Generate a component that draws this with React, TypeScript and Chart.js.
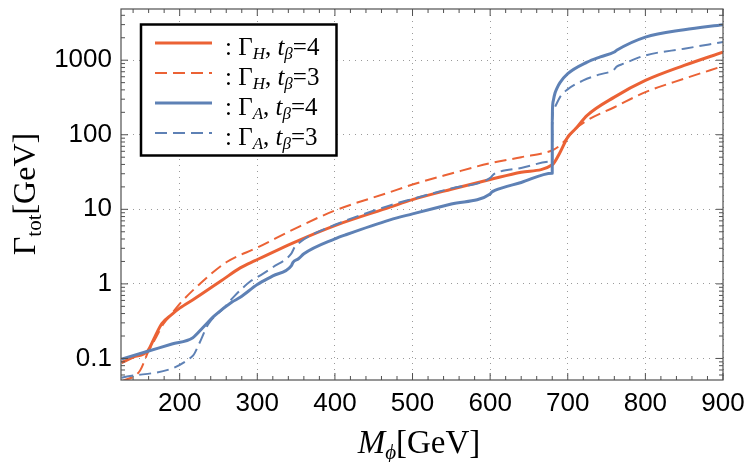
import React, { useEffect, useRef } from 'react';
import { Chart, registerables } from 'chart.js';

Chart.register(...registerables);

const RED = '#EB6235';
const BLUE = '#5E81B5';
const SANS = '"Liberation Sans", Arial, sans-serif';
const SERIF = '"Liberation Serif", "DejaVu Serif", "Times New Roman", serif';

// Γ_H, t_β = 4 (solid red)
const hX4 = [125, 140, 159, 168, 177, 190, 200, 220, 254, 278, 297, 350, 400, 471, 500, 550, 600, 640, 680, 690, 700, 710, 725, 760, 800, 850, 900];
const hY4 = [0.088, 0.104, 0.127, 0.195, 0.293, 0.39, 0.473, 0.64, 1.11, 1.64, 2.05, 3.7, 6.06, 10.7, 13.5, 18.6, 25.1, 31.5, 39.6, 58, 93, 120, 182, 320, 535, 851, 1285];

// Γ_H, t_β = 3 (dashed red)
const hX3 = [125, 149, 159, 170, 179, 190, 200, 226, 260, 300, 350, 400, 471, 500, 550, 600, 640, 680, 690, 700, 705, 725, 760, 800, 850, 900];
const hY3 = [0.049, 0.069, 0.12, 0.195, 0.29, 0.4, 0.54, 1.0, 1.95, 3.07, 5.6, 9.64, 17.0, 21.5, 30.2, 41.6, 50, 62, 72, 92, 108, 156, 234, 373, 565, 833];

// Γ_A, t_β = 4 (solid blue)
const aX4 = [125, 160, 190, 217, 230, 245, 267, 278, 300, 320, 344, 346, 353, 360, 400, 415, 471, 500, 550, 600, 602, 606, 640, 680, 680, 680.3, 681.5, 683.5, 686, 690, 700, 725, 742, 760, 763, 800, 850, 900];
const aY4 = [0.098, 0.126, 0.156, 0.19, 0.26, 0.375, 0.567, 0.66, 0.98, 1.28, 1.76, 1.95, 2.17, 2.53, 4.02, 4.6, 7.23, 8.7, 11.8, 16.1, 17.0, 17.9, 22.9, 30.5, 150, 220, 290, 360, 420, 500, 660, 943, 1110, 1290, 1360, 2042, 2567, 2997];

// Γ_A, t_β = 3 (dashed blue)
const aX3 = [125, 217, 224, 237, 258, 269, 292, 300, 320, 344, 348, 355, 364, 400, 471, 500, 550, 600, 603, 607, 640, 680, 680, 680.4, 682, 684, 690, 699, 720, 740, 759, 763, 772, 800, 850, 900];
const aY3 = [0.055, 0.109, 0.149, 0.29, 0.486, 0.66, 1.1, 1.23, 1.67, 2.57, 3.1, 3.62, 4.2, 6.2, 11.3, 13.8, 19.1, 26.4, 28.5, 30.5, 35.9, 43.8, 120, 180, 215, 240, 320, 400, 535, 640, 740, 820, 898, 1160, 1426, 1750];

const xTicks = [200, 300, 400, 500, 600, 700, 800, 900];
const yTicks = [0.1, 1, 10, 100, 1000];
const legendSubs = ['H', 'H', 'A', 'A'];
const legendTb = ['4', '3', '4', '3'];

const X_MIN = 124.4;
const X_MAX = 900;
const Y_MIN = 0.0514;
const Y_MAX = 4860;

type Run = { t: string; f: string; dy?: number };

function runsWidth(ctx: CanvasRenderingContext2D, runs: Run[]) {
  let w = 0;
  for (const r of runs) { ctx.font = r.f; w += ctx.measureText(r.t).width; }
  return w;
}
function drawRuns(ctx: CanvasRenderingContext2D, runs: Run[], x: number, y: number) {
  let cx = x;
  for (const r of runs) {
    ctx.font = r.f;
    ctx.fillText(r.t, cx, y + (r.dy || 0));
    cx += ctx.measureText(r.t).width;
  }
}

const decor = {
  id: 'decor',
  afterDraw(chart: any) {
    const ctx: CanvasRenderingContext2D = chart.ctx;
    const { left, right, top, bottom } = chart.chartArea;
    const xs = chart.scales.x;
    const ys = chart.scales.y;
    ctx.save();
    ctx.strokeStyle = '#505050';
    ctx.lineWidth = 1.2;
    ctx.setLineDash([]);
    ctx.strokeRect(left, top, right - left, bottom - top);

    const tick = (x1: number, y1: number, x2: number, y2: number) => {
      ctx.beginPath(); ctx.moveTo(x1, y1); ctx.lineTo(x2, y2); ctx.stroke();
    };
    ctx.lineWidth = 1;
    for (let v = 140; v <= 900; v += 20) {
      const major = v % 100 === 0;
      const L = major ? 7 : 4;
      const px = xs.getPixelForValue(v);
      tick(px, bottom, px, bottom - L);
      tick(px, top, px, top + L);
    }
    for (let e = -2; e <= 3; e++) {
      for (let k = 1; k <= 9; k++) {
        const v = k * Math.pow(10, e);
        if (v < Y_MIN || v > Y_MAX) continue;
        const L = k === 1 ? 7 : 4;
        const py = ys.getPixelForValue(v);
        tick(left, py, left + L, py);
        tick(right, py, right - L, py);
      }
    }

    // legend
    const bx = 141, by = 24.5, bw = 195.5, bh = 131;
    ctx.fillStyle = '#fff';
    ctx.fillRect(bx, by, bw, bh);
    ctx.strokeStyle = '#000';
    ctx.lineWidth = 2.5;
    ctx.strokeRect(bx, by, bw, bh);
    const colors = [RED, RED, BLUE, BLUE];
    for (let i = 0; i < 4; i++) {
      const ly = 43 + i * 30;
      ctx.strokeStyle = colors[i];
      const dashed = i % 2 === 1;
      ctx.lineWidth = dashed ? 2 : 3;
      ctx.setLineDash(dashed ? [12, 6] : []);
      ctx.beginPath(); ctx.moveTo(155, ly); ctx.lineTo(212, ly); ctx.stroke();
      ctx.setLineDash([]);
      ctx.fillStyle = '#000';
      ctx.textBaseline = 'alphabetic';
      ctx.textAlign = 'left';
      const big = `25px ${SERIF}`;
      const bigI = `italic 25px ${SERIF}`;
      const sub = `italic 17px ${SERIF}`;
      drawRuns(ctx, [
        { t: ': \u0393', f: big },
        { t: legendSubs[i], f: sub, dy: 4 },
        { t: ', ', f: big },
        { t: 't', f: bigI },
        { t: '\u03B2', f: sub, dy: 4 },
        { t: '=' + legendTb[i], f: big },
      ], 225, ly + 11.5);
    }

    // y title
    ctx.fillStyle = '#000';
    ctx.save();
    ctx.translate(35, 194);
    ctx.rotate(-Math.PI / 2);
    const yRuns: Run[] = [
      { t: '\u0393', f: `32px ${SERIF}` },
      { t: 'tot', f: `21px ${SERIF}`, dy: 6 },
      { t: '[GeV]', f: `32px ${SERIF}` },
    ];
    const yw = runsWidth(ctx, yRuns);
    drawRuns(ctx, yRuns, -yw / 2, 0);
    ctx.restore();

    // x title
    const xRuns: Run[] = [
      { t: 'M', f: `italic 33px ${SERIF}` },
      { t: '\u03D5', f: `italic 21px ${SERIF}`, dy: 6 },
      { t: '[GeV]', f: `33px ${SERIF}` },
    ];
    const xw = runsWidth(ctx, xRuns);
    drawRuns(ctx, xRuns, 419 - xw / 2, 453);
    ctx.restore();
  },
};

export default function App() {
  const ref = useRef<HTMLCanvasElement>(null);
  useEffect(() => {
    const mk = (xs: number[], ys: number[]) => xs.map((x, i) => ({ x, y: ys[i] }));
    const chart = new Chart(ref.current as HTMLCanvasElement, {
      type: 'line',
      data: {
        datasets: [
          { data: mk(hX4, hY4), borderColor: RED, borderWidth: 3, order: 4 },
          { data: mk(hX3, hY3), borderColor: RED, borderWidth: 2, borderDash: [12, 6], order: 3 },
          { data: mk(aX4, aY4), borderColor: BLUE, borderWidth: 3, order: 2 },
          { data: mk(aX3, aY3), borderColor: BLUE, borderWidth: 2, borderDash: [12, 6], order: 1 },
        ] as any,
      },
      options: {
        animation: false,
        responsive: false,
        devicePixelRatio: 1,
        layout: { padding: { left: 0, right: 27, top: 9, bottom: 0 } },
        elements: {
          point: { radius: 0 },
          line: { cubicInterpolationMode: 'monotone', fill: false, borderCapStyle: 'butt', borderJoinStyle: 'round' },
        },
        plugins: { legend: { display: false }, tooltip: { enabled: false } },
        scales: {
          x: {
            type: 'linear',
            min: X_MIN,
            max: X_MAX,
            afterBuildTicks: (s: any) => { s.ticks = xTicks.map((v) => ({ value: v })); },
            afterFit: (s: any) => { s.height = 82; s.paddingLeft = 0; s.paddingRight = 0; s.paddingTop = 0; s.paddingBottom = 0; },
            ticks: {
              font: { family: SANS, size: 26 },
              color: '#000',
              padding: 8,
              maxRotation: 0,
              autoSkip: false,
              callback: (v: any) => String(v),
            },
            grid: { color: '#9a9a9a', lineWidth: 1, drawTicks: false, tickLength: 0 },
            border: { display: false, dash: [1, 5] },
          },
          y: {
            type: 'logarithmic',
            min: Y_MIN,
            max: Y_MAX,
            afterBuildTicks: (s: any) => { s.ticks = yTicks.map((v) => ({ value: v })); },
            afterFit: (s: any) => { s.width = 121; s.paddingLeft = 0; s.paddingRight = 0; s.paddingTop = 0; s.paddingBottom = 0; },
            ticks: {
              font: { family: SANS, size: 26 },
              color: '#000',
              padding: 9,
              autoSkip: false,
              callback: (v: any) => String(v),
            },
            grid: { color: '#9a9a9a', lineWidth: 1, drawTicks: false, tickLength: 0 },
            border: { display: false, dash: [1, 5] },
          },
        },
      } as any,
      plugins: [decor],
    });
    return () => chart.destroy();
  }, []);
  return (
    <div style={{ position: 'absolute', left: 0, top: 0, width: 750, height: 462, background: '#fff' }}>
      <canvas ref={ref} width={750} height={462} style={{ display: 'block' }} />
    </div>
  );
}
